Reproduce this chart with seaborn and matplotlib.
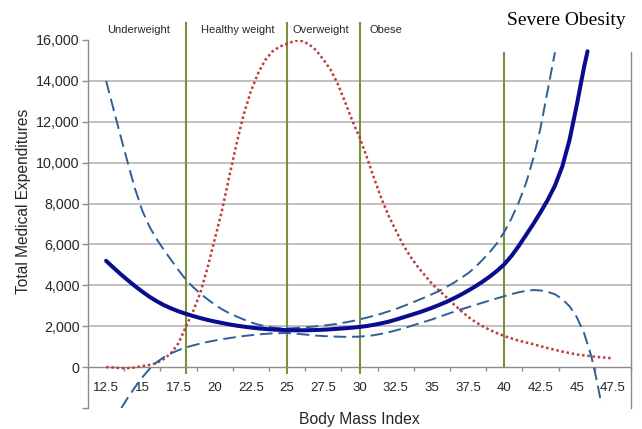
import numpy as np
import pandas as pd
import matplotlib
matplotlib.use('Agg')
import matplotlib.pyplot as plt
import seaborn as sns

# BMI categories shown across the top
category_names = ['Underweight', 'Healthy weight', 'Overweight', 'Obese']
category_cutoffs = [18, 25, 30, 40]

# x axis tick labels
bmi_ticks = [12.5, 15, 17.5, 20, 22.5, 25, 27.5, 30, 32.5, 35, 37.5, 40, 42.5, 45, 47.5]
yticks = [-2000, 0, 2000, 4000, 6000, 8000, 10000, 12000, 14000, 16000]

# central estimate (solid)
mean_bmi = [12.5, 13, 13.5, 14, 14.5, 15, 15.5, 16, 16.5, 17, 17.5, 18, 18.5, 19, 19.5,
            20, 20.5, 21, 21.5, 22, 22.5, 23, 23.5, 24, 24.5, 25, 25.5, 26, 26.5, 27,
            27.5, 28, 28.5, 29, 29.5, 30, 30.5, 31, 31.5, 32, 32.5, 33, 33.5, 34, 34.5,
            35, 35.5, 36, 36.5, 37, 37.5, 38, 38.5, 39, 39.5, 40, 40.5, 41, 41.5, 42,
            42.5, 43, 43.5, 44, 44.5, 45, 45.5, 45.75]
mean_cost = [5200, 4870, 4550, 4250, 3960, 3690, 3440, 3220, 3030, 2870, 2730, 2610, 2500,
             2400, 2310, 2230, 2160, 2090, 2030, 1980, 1935, 1895, 1865, 1840, 1822, 1810,
             1800, 1800, 1805, 1815, 1830, 1850, 1875, 1900, 1930, 1965, 2010, 2070, 2140,
             2220, 2320, 2430, 2540, 2650, 2770, 2900, 3040, 3190, 3360, 3540, 3740, 3950,
             4180, 4430, 4710, 5030, 5440, 5930, 6460, 7000, 7570, 8180, 8880, 9800, 11100,
             12800, 14650, 15450]

# upper confidence bound (dashed)
upper_bmi = [12.5, 13, 13.5, 14, 14.5, 15, 15.5, 16, 16.5, 17, 17.5, 18, 18.5, 19, 19.5,
             20, 20.5, 21, 21.5, 22, 22.5, 23, 23.5, 24, 24.5, 25, 25.5, 26.5, 27.5, 28.5,
             29.5, 30.5, 31.5, 32.5, 33.5, 34.5, 35.5, 36.5, 37.5, 38, 38.5, 39, 39.5, 40,
             40.5, 41, 41.5, 42, 42.5, 43, 43.5]
upper_cost = [14000, 12650, 11300, 9980, 8720, 7650, 6860, 6250, 5720, 5230, 4740, 4290,
              3920, 3600, 3320, 3060, 2830, 2640, 2480, 2330, 2190, 2080, 2000, 1940, 1900,
              1890, 1910, 1960, 2030, 2120, 2250, 2420, 2610, 2840, 3110, 3410, 3720, 4120,
              4590, 4890, 5250, 5630, 6060, 6620, 7280, 8060, 9000, 10200, 11700, 13550, 15400]

# lower confidence bound (dashed)
lower_bmi = [13.55, 14, 14.5, 15, 15.5, 16, 16.5, 17, 17.5, 18, 18.5, 19, 19.5, 20, 21, 22,
             23, 24, 25, 26, 27, 28, 29, 30, 31, 32, 33, 34, 35, 36, 37, 38, 39, 40, 40.5,
             41, 41.5, 42, 42.5, 43, 43.5, 44, 44.5, 45, 45.5, 46, 46.4, 46.7]
lower_cost = [-2000, -1500, -980, -500, -90, 240, 490, 680, 830, 960, 1060, 1150, 1230, 1300,
              1420, 1520, 1600, 1650, 1670, 1610, 1540, 1500, 1480, 1490, 1560, 1700, 1890,
              2110, 2330, 2580, 2820, 3040, 3260, 3470, 3570, 3660, 3730, 3770, 3750, 3680,
              3560, 3330, 2980, 2450, 1680, 560, -700, -1800]

# BMI distribution, scaled (dotted)
dist_bmi = [12.5, 13, 13.5, 14, 14.5, 15, 15.5, 16, 16.5, 17, 17.5, 18, 18.5, 19, 19.5, 20,
            20.5, 21, 21.5, 22, 22.5, 23, 23.5, 24, 24.5, 25, 25.6, 26, 26.5, 27, 27.5, 28,
            28.5, 29, 29.5, 30, 30.5, 31, 31.5, 32, 32.5, 33, 33.5, 34, 34.5, 35, 35.5, 36,
            36.5, 37, 37.5, 38, 38.5, 39, 39.5, 40, 41, 42, 43, 44, 45, 46, 47, 47.5]
dist_val = [0, -20, -50, -50, -20, 50, 110, 200, 400, 690, 1170, 1960, 2710, 3620, 4850, 6250,
            7650, 9300, 10900, 12350, 13500, 14380, 15030, 15450, 15680, 15820, 15970, 15950,
            15800, 15500, 15050, 14550, 13850, 12980, 12050, 11250, 10280, 9250, 8270, 7420,
            6700, 6000, 5420, 4930, 4500, 4080, 3740, 3420, 3080, 2760, 2460, 2210, 2000, 1820,
            1660, 1520, 1290, 1120, 930, 760, 620, 530, 460, 430]

NAVY = '#0B0B8F'
STEEL = '#2F5F98'
RED = '#BE3B36'
GREEN = '#76923C'
GRID = '#B5B5B5'
AXIS = '#8C8C8C'
TEXT = '#262626'


def main():
    sns.set_style('white')
    plt.rcParams['font.family'] = ['Liberation Sans', 'DejaVu Sans']

    fig = plt.figure(figsize=(6.42, 4.29), dpi=100)
    ax = fig.add_axes([88 / 642, 21 / 429, 543 / 642, 368 / 429])
    ax.set_xlim(11.25, 48.75)
    ax.set_ylim(-2000, 16000)

    # horizontal gridlines
    for v in range(2000, 16000, 2000):
        ax.axhline(v, color=GRID, lw=1.2, zorder=0)

    # category boundaries
    ax.vlines(category_cutoffs[:3], -340, 16880, color=GREEN, lw=1.5, clip_on=False, zorder=1)
    ax.vlines(category_cutoffs[3:], -50, 15400, color=GREEN, lw=1.5, clip_on=False, zorder=1)

    sns.lineplot(x=dist_bmi, y=dist_val, ax=ax, color=RED, lw=1.8,
                 linestyle=(0, (1, 1.1)), zorder=3)
    sns.lineplot(x=upper_bmi, y=upper_cost, ax=ax, color=STEEL, lw=1.4,
                 linestyle=(0, (6.5, 3)), zorder=3)
    sns.lineplot(x=lower_bmi, y=lower_cost, ax=ax, color=STEEL, lw=1.4,
                 linestyle=(0, (6.5, 3)), zorder=3)
    sns.lineplot(x=mean_bmi, y=mean_cost, ax=ax, color=NAVY, lw=2.9,
                 solid_capstyle='round', zorder=4)

    # spines
    sns.despine(ax=ax, top=True, right=False, left=False, bottom=False)
    for side in ['left', 'right', 'bottom']:
        ax.spines[side].set_color(AXIS)
        ax.spines[side].set_linewidth(1.0)
    ax.spines['right'].set_bounds(-2000, 15400)
    ax.spines['bottom'].set_position(('data', 0))

    # y axis
    ax.set_yticks(yticks)
    ax.set_yticklabels(['' if v < 0 else f'{v:,}' for v in yticks])
    ax.tick_params(axis='y', which='major', left=True, direction='out', length=4,
                   width=1, color=AXIS, pad=2, labelsize=10.3, labelcolor=TEXT)

    # x axis: labels centred in categories, ticks at boundaries
    ax.set_xticks(bmi_ticks)
    ax.set_xticklabels([f'{t:g}' for t in bmi_ticks])
    ax.set_xticks([t + 1.25 for t in bmi_ticks], minor=True)
    ax.tick_params(axis='x', which='major', bottom=True, length=0, pad=11,
                   labelsize=9.5, labelcolor=TEXT)
    ax.tick_params(axis='x', which='minor', bottom=True, direction='out', length=3,
                   width=1, color=AXIS)

    ax.set_xlabel('Body Mass Index', fontsize=11.3, color=TEXT)
    ax.xaxis.set_label_coords(0.5, -0.012)
    ax.set_ylabel('Total Medical Expenditures', fontsize=11.2, color=TEXT)
    ax.yaxis.set_label_coords(-0.105, 0.561)

    # category names above the plot
    label_x = [14.75, 21.56, 27.33, 31.83]
    for name, x in zip(category_names, label_x):
        ax.text(x, 1.027, name, transform=ax.get_xaxis_transform(), ha='center',
                va='center', fontsize=8, color=TEXT)
    ax.text(44.3, 1.054, 'Severe Obesity', transform=ax.get_xaxis_transform(),
            ha='center', va='center', fontsize=14, color='black',
            family=['Liberation Serif', 'DejaVu Serif'])

    fig.savefig('out.png', dpi=100)


if __name__ == "__main__":
    main()
